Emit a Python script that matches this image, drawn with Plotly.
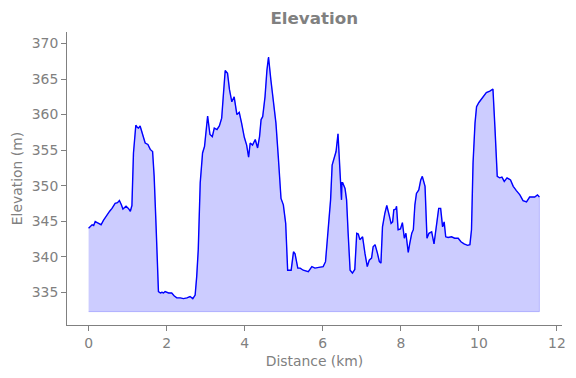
import plotly.graph_objects as go

distance_km = [
    0.00, 0.05, 0.09, 0.13, 0.17, 0.22, 0.26, 0.32, 0.38, 0.47, 0.54, 0.60, 0.68, 0.74, 0.79, 0.84,
    0.88, 0.96, 1.02, 1.07, 1.11, 1.15, 1.21, 1.25, 1.28, 1.32, 1.39, 1.45, 1.52, 1.58, 1.64, 1.68,
    1.73, 1.79, 1.84, 1.88, 1.92, 1.96, 2.05, 2.13, 2.19, 2.26, 2.35, 2.43, 2.52, 2.60, 2.67, 2.73,
    2.77, 2.81, 2.86, 2.92, 2.97, 3.05, 3.11, 3.17, 3.22, 3.29, 3.35, 3.41, 3.45, 3.50, 3.56, 3.61,
    3.67, 3.73, 3.80, 3.86, 3.92, 3.99, 4.05, 4.10, 4.14, 4.20, 4.27, 4.33, 4.38, 4.42, 4.46, 4.52,
    4.57, 4.61, 4.67, 4.73, 4.80, 4.86, 4.93, 4.99, 5.05, 5.10, 5.19, 5.25, 5.29, 5.36, 5.42, 5.50,
    5.63, 5.72, 5.80, 5.90, 6.01, 6.07, 6.12, 6.16, 6.20, 6.24, 6.30, 6.34, 6.39, 6.44, 6.48, 6.49,
    6.51, 6.57, 6.61, 6.65, 6.70, 6.76, 6.82, 6.87, 6.91, 6.95, 7.02, 7.08, 7.14, 7.19, 7.25, 7.29,
    7.34, 7.40, 7.45, 7.49, 7.53, 7.59, 7.64, 7.69, 7.75, 7.79, 7.82, 7.87, 7.89, 7.93, 7.99, 8.04,
    8.09, 8.13, 8.19, 8.23, 8.28, 8.32, 8.36, 8.40, 8.46, 8.51, 8.55, 8.62, 8.67, 8.72, 8.79, 8.85,
    8.91, 8.97, 9.02, 9.07, 9.11, 9.15, 9.21, 9.30, 9.38, 9.47, 9.54, 9.62, 9.71, 9.77, 9.81, 9.85,
    9.90, 9.94, 10.00, 10.07, 10.13, 10.19, 10.28, 10.36, 10.41, 10.47, 10.53, 10.59, 10.65, 10.72,
    10.81, 10.88, 10.96, 11.05, 11.13, 11.22, 11.30, 11.43, 11.50, 11.55,
]

elevation_m = [
    344.0, 344.3, 344.5, 344.4, 344.95, 344.8, 344.7, 344.5, 345.1, 345.9, 346.4, 346.8, 347.5, 347.6, 347.9, 347.3,
    346.7, 347.1, 346.8, 346.4, 347.2, 354.6, 358.5, 358.2, 358.1, 358.4, 357.2, 356.0, 355.8, 355.1, 354.8, 351.3,
    344.2, 335.1, 334.9, 335.0, 334.9, 335.1, 334.9, 334.9, 334.5, 334.2, 334.2, 334.1, 334.2, 334.4, 334.1, 334.6,
    337.2, 341.0, 350.4, 354.6, 355.5, 359.8, 357.2, 356.9, 358.1, 357.9, 358.4, 359.5, 362.5, 366.2, 365.8, 363.5,
    361.8, 362.5, 360.0, 360.3, 358.8, 356.8, 355.7, 354.0, 356.0, 355.7, 356.5, 355.3, 356.9, 359.3, 359.7, 362.5,
    366.3, 368.1, 364.9, 362.1, 358.8, 354.1, 348.2, 347.3, 344.7, 338.1, 338.1, 340.7, 340.4, 338.4, 338.4, 338.1,
    337.9, 338.6, 338.4, 338.5, 338.6, 339.3, 342.4, 345.6, 348.0, 352.9, 353.9, 354.8, 357.3, 352.7, 348.0, 350.4,
    350.4, 349.6, 348.0, 343.3, 338.1, 337.7, 338.2, 343.3, 343.2, 342.4, 342.8, 340.5, 338.6, 339.5, 339.8, 341.4,
    341.7, 340.5, 339.3, 339.1, 344.2, 346.1, 347.2, 346.1, 344.7, 344.9, 346.6, 346.7, 347.1, 343.8, 343.9, 344.8,
    342.6, 343.3, 340.6, 341.9, 343.3, 343.8, 347.3, 348.9, 349.4, 350.8, 351.3, 349.9, 342.6, 343.3, 343.5, 341.8,
    344.5, 346.8, 346.8, 344.2, 344.9, 342.8, 342.7, 342.8, 342.6, 342.6, 342.1, 341.8, 341.6, 341.7, 343.8, 353.2,
    358.8, 361.1, 361.7, 362.2, 362.5, 363.1, 363.3, 363.6, 358.3, 351.3, 351.1, 351.2, 350.6, 351.1,
    350.8, 349.9, 349.3, 348.7, 347.9, 347.7, 348.4, 348.4, 348.7, 348.4,
]

fill_base_m = 332.27

x_ticks = [0, 2, 4, 6, 8, 10, 12]
y_ticks = [335, 340, 345, 350, 355, 360, 365, 370]

GRAY = "#808080"
FONT = "DejaVu Sans"

poly_x = distance_km + distance_km[::-1]
poly_y = elevation_m + [fill_base_m] * len(distance_km)

fig = go.Figure()
fig.add_trace(go.Scatter(
    x=poly_x, y=poly_y, mode="lines", fill="toself",
    fillcolor="rgba(0,0,255,0.2)", line=dict(color="rgba(0,0,255,0.2)", width=1),
    hoverinfo="skip", showlegend=False,
))
fig.add_trace(go.Scatter(
    x=distance_km, y=elevation_m, mode="lines",
    line=dict(color="#0000ff", width=1.4), showlegend=False,
))

axis_common = dict(
    showgrid=False, zeroline=False, showline=True, linecolor=GRAY, linewidth=1,
    ticks="outside", ticklen=5, tickwidth=1, tickcolor=GRAY,
    tickfont=dict(family=FONT, size=13.9, color=GRAY),
    mirror=False, automargin=False,
)

fig.update_layout(
    width=576, height=378,
    margin=dict(l=67, r=14, t=32, b=53, autoexpand=False),
    paper_bgcolor="white", plot_bgcolor="white",
    title=dict(text="<b>Elevation</b>", x=0.5455, xref="container", y=1 - 18 / 378,
               yref="container", xanchor="center", yanchor="middle",
               font=dict(family=FONT, size=16.7, color=GRAY), automargin=False),
    xaxis=dict(range=[-0.553, 12.129], tickvals=x_ticks,
               title=dict(text="Distance (km)", standoff=6,
                          font=dict(family=FONT, size=13.9, color=GRAY)),
               **axis_common),
    yaxis=dict(range=[330.39, 371.62], tickvals=y_ticks,
               title=dict(text="Elevation (m)", standoff=5,
                          font=dict(family=FONT, size=13.9, color=GRAY)),
               **axis_common),
)

fig.write_html("out.html", config={"displayModeBar": False},
               post_script="document.body.style.margin='0px';")
